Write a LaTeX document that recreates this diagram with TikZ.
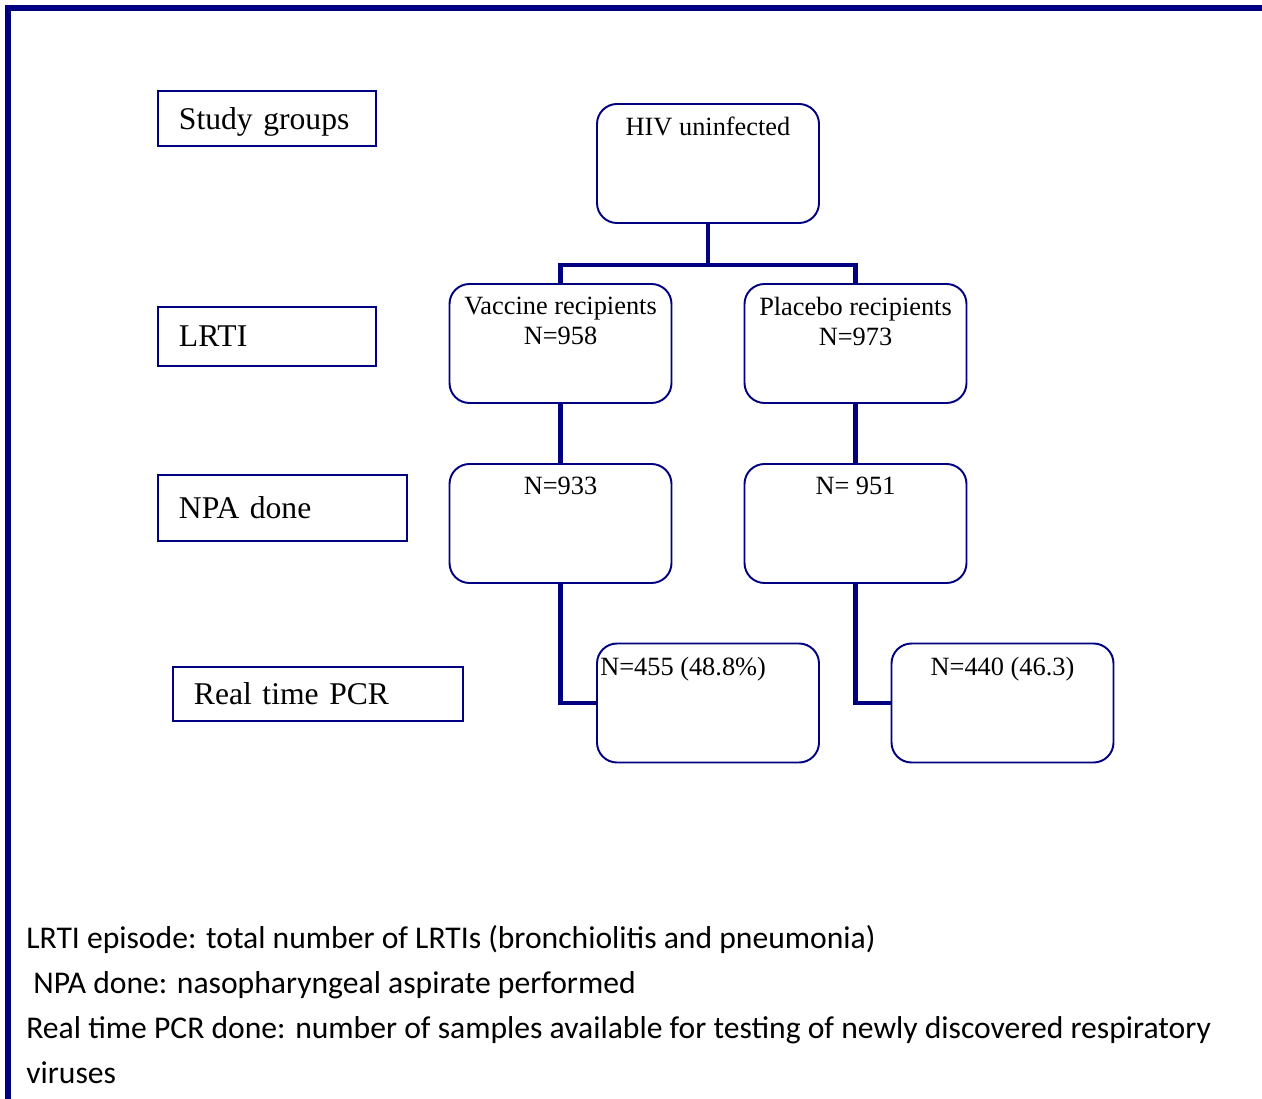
\documentclass[tikz,border=0pt]{standalone}
\usepackage{fontspec}
\setmainfont{Liberation Serif}
\newfontfamily\notefont{Carlito}
\usepackage{tikz}
\usetikzlibrary{positioning,calc}
\definecolor{navy}{RGB}{0,0,128}

\begin{document}
\begin{tikzpicture}[
    every node/.style={font=\fontsize{15}{17}\selectfont},
    stage/.style={rectangle, draw=navy, line width=1.1pt, rounded corners=0.4cm, minimum width=4.44cm, minimum height=2.38cm},
    stagetext/.style={anchor=north, align=center, yshift=-0.16cm},
    legendbox/.style={rectangle, draw=navy, line width=1.1pt, anchor=west, inner xsep=0.42cm, text depth=0pt, align=left, font=\fontsize{18}{20}\selectfont},
    link/.style={draw=navy, line width=2.8pt},
    note/.style={anchor=base west, inner sep=0pt, font=\notefont\fontsize{18}{20}\selectfont}
]
\useasboundingbox (0,0) rectangle (25.24,-21.98);

% Frame
\draw[navy, line width=0.12cm] (0.16,-22.2) -- (0.16,-0.16) -- (25.5,-0.16);

% Row labels
\node[legendbox, text width=3.52cm, minimum height=1.10cm] (groups) at (3.14,-2.37) {Study groups};
\node[legendbox, text width=3.52cm, minimum height=1.18cm] (lrti) at (3.14,-6.73) {LRTI};
\node[legendbox, text width=4.14cm, minimum height=1.32cm] (npa) at (3.14,-10.16) {NPA done};
\node[legendbox, text width=4.96cm, minimum height=1.08cm] (pcr) at (3.44,-13.88) {Real time PCR};

% Flow boxes
\node[stage, label={[stagetext]north:HIV uninfected}] (hiv) at (14.16,-3.27) {};
\node[stage, label={[stagetext]north:{Vaccine recipients\\N=958}}] (vacc) at (11.21,-6.87) {};
\node[stage, label={[stagetext]north:{Placebo recipients\\N=973}}] (plac) at (17.11,-6.87) {};
\node[stage, label={[stagetext]north:N=933}] (vnpa) at (11.21,-10.47) {};
\node[stage, label={[stagetext]north:N= 951}] (pnpa) at (17.11,-10.47) {};
\node[stage, label={[stagetext, anchor=north west, xshift=-0.04cm]north west:N=455 (48.8\%)}] (vpcr) at (14.16,-14.06) {};
\node[stage, label={[stagetext]north:N=440 (46.3)}] (ppcr) at (20.05,-14.06) {};

% Connectors
\coordinate (split) at (14.16,-5.30);
\draw[link] (hiv.south) -- (split);
\draw[link] (vacc.north) |- (split) -| (plac.north);
\draw[link] (vacc) -- (vnpa);
\draw[link] (plac) -- (pnpa);
\draw[link] (vnpa.south) |- (vpcr.west);
\draw[link] (pnpa.south) |- (ppcr.west);

% Footnotes
\node[note] (n1) at (0.52,-18.96) {LRTI episode: total number of LRTIs (bronchiolitis and pneumonia)};
\node[note] (n2) at (0.66,-19.86) {NPA done: nasopharyngeal aspirate performed};
\node[note] (n3) at (0.52,-20.76) {Real time PCR done: number of samples available for testing of newly discovered respiratory};
\node[note] (n4) at (0.52,-21.66) {viruses};

\end{tikzpicture}
\end{document}
